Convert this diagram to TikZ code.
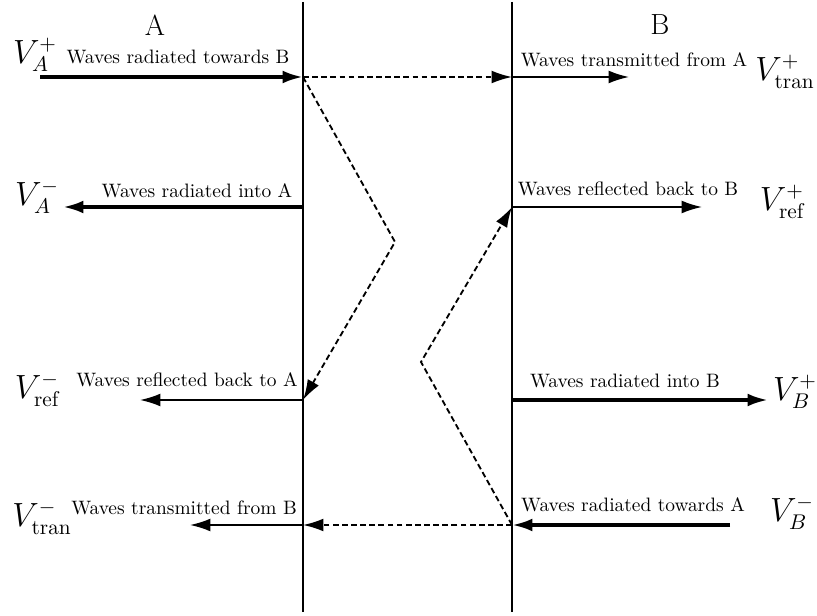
\documentclass[tikz,border=0pt]{standalone}
\usetikzlibrary{arrows.meta}
\begin{document}
\begin{tikzpicture}[x=0.515pt,y=-0.515pt,
  wall/.style={line width=1.3pt},
  tip/.style={-{Latex[length=10.5pt,width=6.6pt]}},
  thickarr/.style={tip,line width=1.8pt},
  thinarr/.style={tip,line width=0.8pt},
  dasharr/.style={tip,line width=0.95pt,dash pattern=on 3pt off 1.7pt},
  lbl/.style={font=\fontsize{10}{12}\selectfont,inner sep=0pt},
  vlab/.style={font=\fontsize{16}{19}\selectfont,inner sep=0pt},
  head/.style={font=\fontsize{15}{18}\selectfont,inner sep=0pt}]
\useasboundingbox (0,0) rectangle (817,616);
% walls
\coordinate (Atop) at (303,2);
\coordinate (Abot) at (303,612);
\coordinate (Btop) at (512,2);
\coordinate (Bbot) at (512,612);
\draw[wall] (Atop) -- (Abot);
\draw[wall] (Btop) -- (Bbot);
% points on walls
\coordinate (A1) at (303,77);
\coordinate (A2) at (303,207);
\coordinate (A3) at (303,400);
\coordinate (A4) at (303,525);
\coordinate (B1) at (512,77);
\coordinate (B2) at (512,207);
\coordinate (B3) at (512,400);
\coordinate (B4) at (512,525);
% free ends
\coordinate (LA1) at (40,77);
\coordinate (LA2) at (63,207);
\coordinate (LA3) at (140,400);
\coordinate (LA4) at (190,525);
\coordinate (RB1) at (629,77);
\coordinate (RB2) at (702,207);
\coordinate (RB3) at (768,400);
\coordinate (RB4) at (730,525);
\coordinate (Z1) at (395,242);
\coordinate (Z2) at (421,362);
% solid arrows
\draw[thickarr] (LA1) -- (A1);
\draw[thickarr] (A2) -- (LA2);
\draw[thinarr] (A3) -- (LA3);
\draw[thinarr] (A4) -- (LA4);
\draw[thinarr] (B1) -- (RB1);
\draw[thinarr] (B2) -- (RB2);
\draw[thickarr] (B3) -- (RB3);
\draw[thickarr] (RB4) -- (B4);
% dashed paths
\draw[dasharr] (A1) -- (B1);
\draw[dasharr] (A1) -- (Z1) -- (A3);
\draw[dasharr] (B4) -- (A4);
\draw[dasharr] (B4) -- (Z2) -- (B2);
% headings
\node[head] (hA) at (155,25) {A};
\node[head] (hB) at (660,25) {B};
% left labels
\node[vlab] (va1) at (35,55) {$V_A^+$};
\node[lbl] (ta1) at (178,57) {Waves radiated towards B};
\node[vlab] (va2) at (37,197) {$V_A^-$};
\node[lbl] (ta2) at (197,191) {Waves radiated into A};
\node[vlab] (va3) at (38,390) {$V_{\mathrm{ref}}^-$};
\node[lbl] (ta3) at (187,380) {Waves reflected back to A};
\node[vlab] (va4) at (42,518) {$V_{\mathrm{tran}}^-$};
\node[lbl] (ta4) at (184,508) {Waves transmitted from B};
% right labels
\node[lbl] (tb1) at (634,60) {Waves transmitted from A};
\node[vlab] (vb1) at (785,72) {$V_{\mathrm{tran}}^+$};
\node[lbl] (tb2) at (628,189) {Waves reflected back to B};
\node[vlab] (vb2) at (783,202) {$V_{\mathrm{ref}}^+$};
\node[lbl] (tb3) at (625,381) {Waves radiated into B};
\node[vlab] (vb3) at (795,392) {$V_B^+$};
\node[lbl] (tb4) at (633,505) {Waves radiated towards A};
\node[vlab] (vb4) at (792,513) {$V_B^-$};
\end{tikzpicture}
\end{document}
